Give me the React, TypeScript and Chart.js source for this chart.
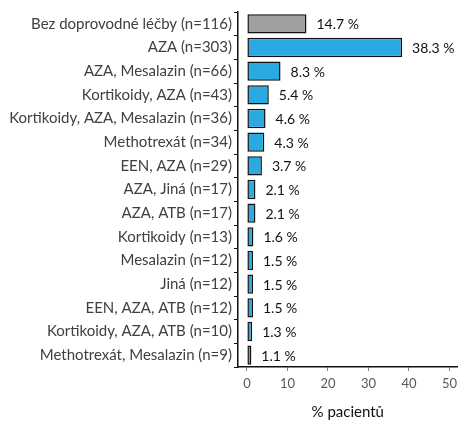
import React, { useEffect, useRef } from "react";
import { Chart, registerables } from "chart.js";

Chart.register(...registerables);

const categories = [
  "Bez doprovodné léčby (n=116)",
  "AZA (n=303)",
  "AZA, Mesalazin (n=66)",
  "Kortikoidy, AZA (n=43)",
  "Kortikoidy, AZA, Mesalazin (n=36)",
  "Methotrexát (n=34)",
  "EEN, AZA (n=29)",
  "AZA, Jiná (n=17)",
  "AZA, ATB (n=17)",
  "Kortikoidy (n=13)",
  "Mesalazin (n=12)",
  "Jiná (n=12)",
  "EEN, AZA, ATB (n=12)",
  "Kortikoidy, AZA, ATB (n=10)",
  "Methotrexát, Mesalazin (n=9)",
];
const values = [14.7, 38.3, 8.3, 5.4, 4.6, 4.3, 3.7, 2.1, 2.1, 1.6, 1.5, 1.5, 1.5, 1.3, 1.1];
const barColors = [
  "#a0a0a0", "#29abe2", "#29abe2", "#29abe2", "#29abe2", "#29abe2", "#29abe2", "#29abe2",
  "#29abe2", "#29abe2", "#29abe2", "#29abe2", "#29abe2", "#29abe2", "#29abe2",
];
const xTicks = [0, 10, 20, 30, 40, 50];
const xTitle = "% pacientů";

const FONT = "Lato, 'Open Sans', sans-serif";

const labelPlugin = {
  id: "barLabels",
  afterDatasetsDraw(chart: any) {
    const ctx = chart.ctx;
    const meta = chart.getDatasetMeta(0);
    ctx.save();
    ctx.font = `14px ${FONT}`;
    ctx.fillStyle = "#111111";
    ctx.textAlign = "left";
    ctx.textBaseline = "middle";
    meta.data.forEach((bar: any, i: number) => {
      const v = values[i];
      ctx.fillText(v.toFixed(1) + " %", bar.x + 10, bar.y + 1);
    });
    ctx.restore();
  },
};

export default function App() {
  const ref = useRef<HTMLCanvasElement | null>(null);
  useEffect(() => {
    document.body.style.margin = "0";
    if (!ref.current) return;
    const chart = new Chart(ref.current, {
      type: "bar",
      data: {
        labels: categories,
        datasets: [
          {
            data: values,
            backgroundColor: barColors,
            borderColor: "#111111",
            borderWidth: 1.5,
            borderSkipped: false,
            barPercentage: 0.82,
            categoryPercentage: 1,
          },
        ],
      },
      options: {
        indexAxis: "y",
        animation: false,
        responsive: false,
        maintainAspectRatio: false,
        layout: { padding: { top: 12, left: 0, right: 0, bottom: 0 } },
        plugins: { legend: { display: false }, tooltip: { enabled: false } },
        scales: {
          x: {
            type: "linear",
            min: -2.2,
            max: 52,
            afterBuildTicks: (scale: any) => {
              scale.ticks = xTicks.map((v) => ({ value: v }));
            },
            afterFit: (scale: any) => {
              scale.height = 54;
            },
            grid: {
              display: true,
              drawOnChartArea: false,
              drawTicks: true,
              tickLength: 4,
              color: "#7f7f7f",
            },
            border: { display: true, color: "#111111", width: 1.5 },
            ticks: {
              color: "#595959",
              font: { family: FONT, size: 13 },
              padding: 5,
              maxRotation: 0,
            },
            title: {
              display: true,
              text: xTitle,
              color: "#111111",
              font: { family: FONT, size: 15 },
              padding: { top: 10, bottom: 0 },
            },
          },
          y: {
            afterFit: (scale: any) => {
              scale.width = 238;
            },
            grid: {
              display: true,
              drawOnChartArea: false,
              drawTicks: true,
              tickLength: 4,
              color: "#111111",
            },
            border: { display: true, color: "#111111", width: 1.5 },
            ticks: {
              color: "#404040",
              font: { family: FONT, size: 15 },
              padding: 2,
              autoSkip: false,
            },
          },
        },
      },
      plugins: [labelPlugin],
    } as any);
    return () => chart.destroy();
  }, []);
  return (
    <div style={{ width: 462, height: 421 }}>
      <canvas ref={ref} width={462} height={421} style={{ width: 462, height: 421 }} />
    </div>
  );
}
